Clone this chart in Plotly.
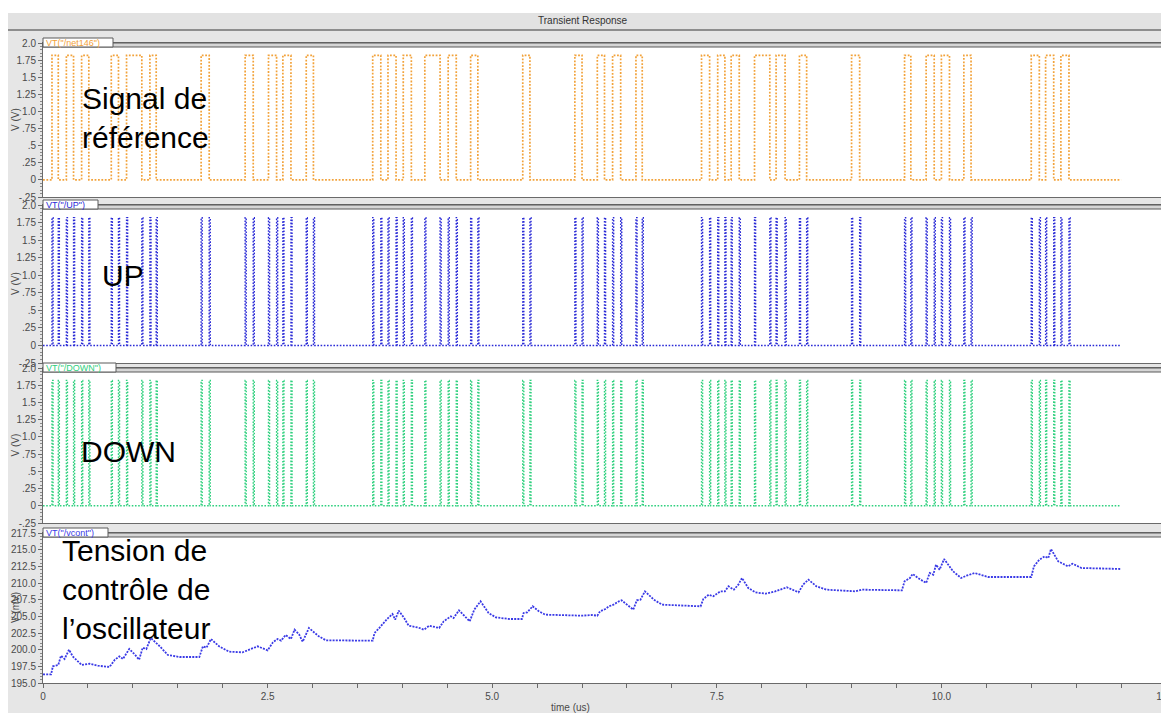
import plotly.graph_objects as go

# ---------------- data ----------------
time_end = 12.0
pulse_high = 1.82

# reference signal: rising / falling edge times (us)
ref_rise = [0.10, 0.26, 0.43, 0.76, 0.93, 1.19, 1.76, 2.25, 2.51, 2.67, 2.93,
            3.67, 3.84, 4.01, 4.25, 4.51, 4.76, 5.34, 5.92, 6.17, 6.34, 6.60,
            7.33, 7.51, 7.66, 7.92, 8.16, 8.42, 9.00, 9.59, 9.83, 10.00, 10.25,
            11.00, 11.16, 11.33]
ref_fall = [0.17, 0.34, 0.51, 0.84, 1.10, 1.26, 1.85, 2.34, 2.60, 2.76, 3.01,
            3.76, 3.93, 4.10, 4.42, 4.60, 4.84, 5.42, 6.00, 6.25, 6.43, 6.67,
            7.42, 7.59, 7.75, 8.09, 8.26, 8.50, 9.09, 9.66, 9.92, 10.09, 10.33,
            11.09, 11.25, 11.42]

# UP / DOWN spikes (us)
up_times = [0.10, 0.17, 0.26, 0.34, 0.43, 0.51, 0.76, 0.84, 0.93, 1.10, 1.19, 1.26,
            1.76, 1.85, 2.25, 2.34, 2.51, 2.60, 2.67, 2.76, 2.93, 3.01,
            3.67, 3.76, 3.84, 3.93, 4.01, 4.10, 4.25, 4.42, 4.51, 4.60, 4.76, 4.84,
            5.34, 5.42, 5.92, 6.00, 6.17, 6.25, 6.34, 6.43, 6.60, 6.67,
            7.33, 7.42, 7.51, 7.59, 7.66, 7.75, 7.92, 8.09, 8.16, 8.26, 8.42, 8.50,
            9.00, 9.09, 9.59, 9.66, 9.83, 9.92, 10.00, 10.09, 10.25, 10.33,
            11.00, 11.09, 11.16, 11.25, 11.33, 11.42]
down_times = [0.10, 0.17, 0.26, 0.34, 0.43, 0.51, 0.76, 0.84, 0.93, 1.10, 1.19, 1.26,
              1.76, 1.85, 2.25, 2.34, 2.51, 2.60, 2.67, 2.76, 2.93, 3.01,
              3.67, 3.76, 3.84, 3.93, 4.01, 4.10, 4.25, 4.42, 4.51, 4.60, 4.76, 4.84,
              5.34, 5.42, 5.92, 6.00, 6.17, 6.25, 6.34, 6.43, 6.60, 6.67,
              7.33, 7.42, 7.51, 7.59, 7.66, 7.75, 7.92, 8.09, 8.16, 8.26, 8.42, 8.50,
              9.00, 9.09, 9.59, 9.66, 9.83, 9.92, 10.00, 10.09, 10.25, 10.33,
              11.00, 11.09, 11.16, 11.25, 11.33, 11.42]

# oscillator control voltage (mV)
vcont_t = [0.00, 0.09, 0.11, 0.17, 0.20, 0.24, 0.29, 0.33, 0.43, 0.52, 0.61, 0.74,
           0.80, 0.85, 0.89, 0.96, 1.02, 1.07, 1.11, 1.15, 1.20, 1.30, 1.39, 1.52,
           1.74, 1.78, 1.82, 1.87, 1.96, 2.07, 2.22, 2.28, 2.39, 2.50, 2.56, 2.61,
           2.65, 2.70, 2.76, 2.80, 2.85, 2.89, 2.93, 2.96, 3.07, 3.15, 3.67, 3.69,
           3.74, 3.80, 3.83, 3.89, 3.92, 3.96, 4.02, 4.07, 4.18, 4.24, 4.30, 4.41,
           4.46, 4.54, 4.57, 4.63, 4.69, 4.75, 4.80, 4.87, 4.96, 5.04, 5.19, 5.33,
           5.35, 5.39, 5.45, 5.52, 5.59, 6.00, 6.11, 6.17, 6.20, 6.26, 6.30, 6.35,
           6.41, 6.44, 6.50, 6.57, 6.61, 6.65, 6.70, 6.80, 6.89, 7.32, 7.35, 7.41,
           7.46, 7.54, 7.59, 7.63, 7.69, 7.74, 7.78, 7.85, 7.93, 8.04, 8.15, 8.22,
           8.28, 8.41, 8.46, 8.52, 8.61, 8.72, 9.04, 9.11, 9.56, 9.59, 9.65, 9.68,
           9.74, 9.83, 9.87, 9.91, 9.94, 9.98, 10.03, 10.13, 10.22, 10.28, 10.37,
           10.52, 11.00, 11.03, 11.09, 11.15, 11.19, 11.22, 11.30, 11.41, 11.46,
           11.56, 12.00]
vcont_mv = [196.3, 196.3, 197.5, 197.7, 199.1, 198.6, 200.0, 199.0, 197.7, 197.9, 197.6, 197.4,
            198.5, 199.0, 198.6, 200.1, 199.3, 198.5, 200.3, 200.1, 201.75, 200.5, 199.2, 198.9,
            198.9, 200.5, 200.3, 201.6, 200.5, 199.7, 199.6, 199.9, 200.5, 199.9, 201.1, 201.6,
            201.35, 202.2, 201.6, 203.0, 202.3, 201.2, 202.3, 203.25, 202.0, 201.4, 201.35, 202.5,
            203.2, 204.2, 204.6, 205.35, 204.5, 205.85, 204.75, 203.6, 203.3, 203.0, 203.6, 203.25,
            204.25, 205.0, 204.75, 205.9, 205.0, 204.25, 206.0, 207.25, 205.5, 204.85, 204.6, 204.6,
            205.5, 205.6, 206.5, 205.75, 205.25, 205.1, 205.2, 205.1, 205.75, 206.1, 206.5, 206.75,
            207.25, 207.4, 206.75, 206.0, 207.4, 207.5, 208.75, 207.5, 206.75, 206.5, 207.6, 208.25,
            208.0, 208.75, 208.75, 209.5, 209.0, 209.75, 210.75, 209.25, 208.6, 208.4, 208.75, 209.1,
            209.35, 208.6, 209.75, 210.5, 209.5, 209.0, 208.75, 209.0, 208.9, 210.25, 210.75, 211.35,
            210.75, 210.0, 211.5, 211.25, 212.75, 212.0, 213.6, 211.75, 210.75, 211.1, 211.5,
            210.9, 210.9, 212.5, 213.5, 214.0, 213.75, 215.1, 213.25, 212.5, 212.9,
            212.25, 212.1]

v_tick_vals = [-0.25, 0, 0.25, 0.5, 0.75, 1.0, 1.25, 1.5, 1.75, 2.0]
v_tick_text = ["-.25", "0", ".25", ".5", ".75", "1.0", "1.25", "1.5", "1.75", "2.0"]
mv_tick_vals = [195.0, 197.5, 200.0, 202.5, 205.0, 207.5, 210.0, 212.5, 215.0, 217.5]
mv_tick_text = ["195.0", "197.5", "200.0", "202.5", "205.0", "207.5", "210.0", "212.5", "215.0", "217.5"]
x_tick_vals = [0, 2.5, 5.0, 7.5, 10.0, 12.5]
x_tick_text = ["0", "2.5", "5.0", "7.5", "10.0", "12.5"]

trace_names = ['VT("/net146")', 'VT("/UP")', 'VT("/DOWN")', 'VT("/vcont")']
y_titles = ["V (V)", "V (V)", "V (V)", "V (mV)"]
colors = ["#f2a23a", "#2a2ad6", "#2fd07e", "#3a3ae6"]

# ---------------- geometry helpers ----------------
# the page has an 8px body margin: page pixel P -> figure pixel P - OFF
OFF = 8
W, H = 1169, 713
ML, MT = 43 - OFF, 43 - OFF
MB = H - (683 - OFF)
MR = W - (1166 - OFF)
PW, PH = W - ML - MR, H - MT - MB


def fx(x):
    return (x - OFF - ML) / PW


def fy(y):
    return (H - MB - (y - OFF)) / PH


panels_px = [(43, 197), (205, 363), (368, 523), (533, 683)]
domains = [[fy(b), fy(t)] for (t, b) in panels_px]


def square_wave(rise, fall, high, end):
    xs, ys = [0.0], [0.0]
    for r, f in zip(rise, fall):
        xs += [r, r, f, f]
        ys += [0.0, high, high, 0.0]
    xs.append(end)
    ys.append(0.0)
    return xs, ys


def spikes(times, high, end, w=0.012):
    xs, ys = [0.0], [0.0]
    for t in times:
        xs += [t, t, t + w, t + w]
        ys += [0.0, high, high, 0.0]
    xs.append(end)
    ys.append(0.0)
    return xs, ys


fig = go.Figure()

rx, ry = square_wave(ref_rise, ref_fall, pulse_high, time_end)
ux, uy = spikes(up_times, pulse_high, time_end)
dx, dy = spikes(down_times, pulse_high, time_end)

series = [(rx, ry), (ux, uy), (dx, dy), (vcont_t, vcont_mv)]
dashes = ["1.8px,1.6px", "1.6px,1.6px", "1.6px,1.6px", "2px,1.2px"]
widths = [1.7, 1.4, 1.4, 1.8]
for i, (xs, ys) in enumerate(series):
    sfx = "" if i == 0 else str(i + 1)
    fig.add_trace(go.Scatter(
        x=xs, y=ys, mode="lines", name=trace_names[i],
        line=dict(color=colors[i], width=widths[i], dash=dashes[i]),
        xaxis="x" + sfx, yaxis="y" + sfx, showlegend=False, hoverinfo="skip"))

tick_font = dict(family="Liberation Sans, Arial, sans-serif", size=10, color="#4a4a4a")
axis_line = "#6a6a6a"

layout = dict(
    width=W, height=H,
    margin=dict(l=ML, r=MR, t=MT, b=MB, autoexpand=False),
    paper_bgcolor="#e6e6e6",
    plot_bgcolor="white",
    showlegend=False,
    font=dict(family="Liberation Sans, Arial, sans-serif", color="#333"),
)

for i in range(4):
    sfx = "" if i == 0 else str(i + 1)
    is_bottom = (i == 3)
    xa = dict(
        domain=[0, 1], range=[0, 12.5], anchor="y" + sfx, automargin=False,
        showgrid=False, zeroline=False, showline=True, mirror=True,
        linecolor=axis_line, linewidth=1,
    )
    if is_bottom:
        xa.update(tickmode="array", tickvals=x_tick_vals, ticktext=x_tick_text,
                  ticks="outside", ticklen=4, tickcolor=axis_line, tickfont=tick_font,
                  ticklabeloverflow="allow",
                  minor=dict(dtick=0.5, tick0=0, ticks="outside", ticklen=4, tickcolor=axis_line))
    else:
        xa.update(showticklabels=False, ticks="")
    if i > 0:
        xa["matches"] = "x"
    layout["xaxis" + sfx] = xa

    if i < 3:
        tv, tt, rng, mdt = v_tick_vals, v_tick_text, [-0.25, 2.0], 0.05
    else:
        tv, tt, rng, mdt = mv_tick_vals, mv_tick_text, [195.0, 217.5], 0.5
    layout["yaxis" + sfx] = dict(
        domain=domains[i], range=rng, anchor="x" + sfx, automargin=False,
        tickmode="array", tickvals=tv, ticktext=tt,
        ticks="outside", ticklen=4, tickcolor=axis_line, tickfont=tick_font,
        ticklabeloverflow="allow",
        minor=dict(dtick=mdt, ticks="outside", ticklen=2, tickcolor="#8a8a8a"),
        showgrid=False, zeroline=False, showline=True, mirror=True,
        linecolor=axis_line, linewidth=1,
    )

fig.update_layout(**layout)

shapes = []
annotations = []

# header bar
shapes.append(dict(type="rect", xref="paper", yref="paper", x0=fx(OFF), x1=fx(1166), y0=fy(30), y1=fy(13),
                   fillcolor="#e2e2e2", line=dict(width=0)))
shapes.append(dict(type="rect", xref="paper", yref="paper", x0=fx(OFF), x1=fx(1177), y0=fy(13), y1=fy(OFF),
                   fillcolor="white", line=dict(width=0)))
shapes.append(dict(type="line", xref="paper", yref="paper", x0=fx(OFF), x1=fx(1166), y0=fy(30), y1=fy(30),
                   line=dict(color="#707070", width=1.5)))
shapes.append(dict(type="rect", xref="paper", yref="paper", x0=fx(1166), x1=fx(1170), y0=fy(30), y1=fy(15),
                   fillcolor="#22c322", line=dict(width=0)))
annotations.append(dict(text="Transient Response", xref="paper", yref="paper", x=fx(583), y=fy(20),
                        showarrow=False, font=dict(size=10, color="#333"), xanchor="center", yanchor="middle"))

# panel header strips, tabs and y titles
tab_right = [113, 98, 116, 108]
for i, (top, bot) in enumerate(panels_px):
    shapes.append(dict(type="rect", xref="paper", yref="paper", x0=fx(43), x1=fx(1166), y0=fy(top + 4), y1=fy(top),
                       fillcolor="#d6d6d6", line=dict(color="#5a5a5a", width=1)))
    shapes.append(dict(type="rect", xref="paper", yref="paper", x0=fx(43), x1=fx(tab_right[i]),
                       y0=fy(top + 4), y1=fy(top - 5),
                       fillcolor="white", line=dict(color="#5a5a5a", width=1)))
    annotations.append(dict(text=trace_names[i], xref="paper", yref="paper", x=fx(45), y=fy(top),
                            showarrow=False, xanchor="left", yanchor="middle",
                            font=dict(size=9, color=colors[i]), borderpad=0))
    annotations.append(dict(text=y_titles[i], xref="paper", yref="paper", x=fx(15), y=fy((top + bot) / 2),
                            showarrow=False, xanchor="center", yanchor="middle", textangle=-90,
                            font=dict(size=10, color="#4a4a4a")))

big_font = dict(family="Liberation Sans, Arial, sans-serif", size=30, color="black")
labels = [("Signal de<br>référence", 80, 118),
          ("UP", 100, 275),
          ("DOWN", 79, 451),
          ("Tension de<br>contrôle de<br>l’oscillateur", 60, 589)]
for text, x, y in labels:
    annotations.append(dict(text=text, xref="paper", yref="paper", x=fx(x), y=fy(y),
                            showarrow=False, xanchor="left", yanchor="middle", align="left",
                            font=big_font))

annotations.append(dict(text="time (us)", xref="paper", yref="paper", x=fx(570), y=fy(707),
                        showarrow=False, xanchor="center", yanchor="middle",
                        font=dict(size=10, color="#4a4a4a")))

fig.update_layout(shapes=shapes, annotations=annotations)
fig.write_html("out.html")
